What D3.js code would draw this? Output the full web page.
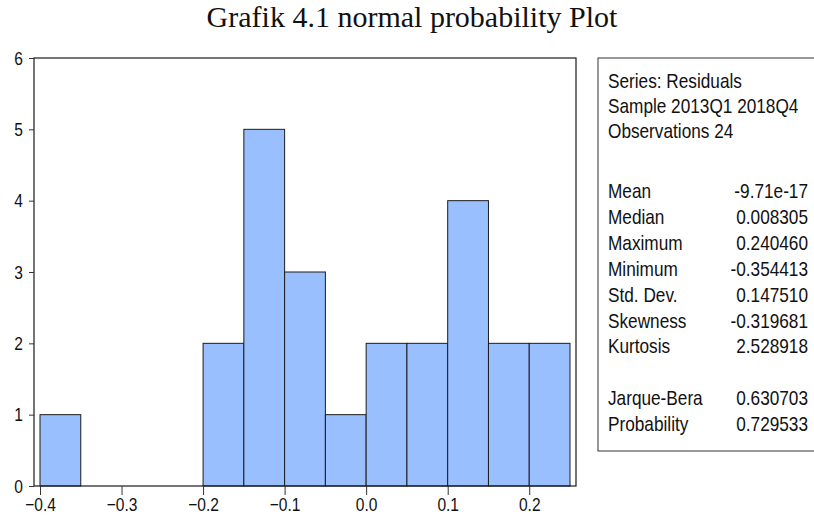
<!DOCTYPE html>
<meta charset="utf-8">
<style>
body { margin: 0; background: #fff; }
svg text { fill: #111; }
.narrow { font-family: "Liberation Sans Narrow", "Arial Narrow", "Liberation Sans", sans-serif; }
.title { font-family: "Liberation Serif", "Times New Roman", serif; }
</style>
<body>
<svg width="814" height="517"></svg>

<script src="https://cdn.jsdelivr.net/npm/d3@7"></script>
<script>

// histogram of residuals (bin start, count), bin width 0.05
var binStarts = [-0.40, -0.35, -0.30, -0.25, -0.20, -0.15, -0.10, -0.05, 0.00, 0.05, 0.10, 0.15, 0.20];
var counts    = [1, 0, 0, 0, 2, 5, 3, 1, 2, 2, 4, 2, 2];
var binWidth = 0.05;

var xTicks = [-0.4, -0.3, -0.2, -0.1, 0.0, 0.1, 0.2];
var yTicks = [0, 1, 2, 3, 4, 5, 6];

// the statistics panel
var headerLines = ["Series: Residuals", "Sample 2013Q1 2018Q4", "Observations 24"];
var statNames  = ["Mean", "Median", "Maximum", "Minimum", "Std. Dev.", "Skewness", "Kurtosis", "", "Jarque-Bera", "Probability"];
var statValues = ["-9.71e-17", "0.008305", "0.240460", "-0.354413", "0.147510", "-0.319681", "2.528918", "", "0.630703", "0.729533"];

var svg = d3.select("svg");

// no narrow sans installed, so squeeze the regular one
var squeeze = 0.82;

var frame = { left: 34, right: 576, top: 58, bottom: 486 };

var x = d3.scaleLinear().domain([-0.4, 0.25]).range([40, 570]);
var y = d3.scaleLinear().domain([0, 6]).range([frame.bottom, frame.top]);

// title
svg.append("text")
    .attr("class", "title")
    .attr("x", 412).attr("y", 27)
    .attr("text-anchor", "middle")
    .style("font-size", "30px")
    .text("Grafik 4.1 normal probability Plot");

// bars
svg.append("g")
  .selectAll("rect")
  .data(counts.map(function(c, i) { return { x0: binStarts[i], n: c }; }).filter(function(d) { return d.n > 0; }))
  .enter().append("rect")
    .attr("x", function(d) { return x(d.x0); })
    .attr("y", function(d) { return y(d.n); })
    .attr("width", function(d) { return x(d.x0 + binWidth) - x(d.x0); })
    .attr("height", function(d) { return y(0) - y(d.n); })
    .attr("fill", "#99bfff")
    .attr("stroke", "#1c1c1c")
    .attr("stroke-width", 1);

// plot frame
svg.append("rect")
    .attr("x", frame.left).attr("y", frame.top)
    .attr("width", frame.right - frame.left)
    .attr("height", frame.bottom - frame.top)
    .attr("fill", "none")
    .attr("stroke", "#1a1a1a")
    .attr("stroke-width", 1.2);

// x axis: major ticks with labels, minor ticks every 0.05
var xAxis = svg.append("g")
    .attr("class", "narrow")
    .attr("transform", "translate(0," + frame.bottom + ")");

xAxis.call(d3.axisBottom(x)
    .tickValues(d3.range(-0.4, 0.2501, 0.05))
    .tickSize(5)
    .tickFormat(""));
xAxis.call(d3.axisBottom(x)
    .tickValues(xTicks)
    .tickSize(9)
    .tickPadding(3)
    .tickFormat(d3.format(".1f")));
xAxis.selectAll(".domain").remove();
xAxis.selectAll("line").attr("stroke", "#333");
xAxis.selectAll("text")
    .style("font-size", "19px")
    .attr("fill", "#111")
    .attr("transform", "scale(" + squeeze + ",1)");

// y axis
var yAxis = svg.append("g")
    .attr("class", "narrow")
    .attr("transform", "translate(" + frame.left + ",0)")
    .call(d3.axisLeft(y).tickValues(yTicks).tickSize(5).tickFormat(d3.format("d")));
yAxis.select(".domain").remove();
yAxis.selectAll("line").attr("stroke", "#333");
yAxis.selectAll("text")
    .style("font-size", "19px")
    .attr("fill", "#111")
    .attr("x", -11 / squeeze)
    .attr("transform", "scale(" + squeeze + ",1)");

// stats panel
svg.append("rect")
    .attr("x", 598).attr("y", 58)
    .attr("width", 230).attr("height", 393)
    .attr("fill", "none")
    .attr("stroke", "#333")
    .attr("stroke-width", 1);

var panel = svg.append("g").attr("class", "narrow").style("font-size", "21px");

function place(px, py) {
  return "translate(" + px + "," + py + ") scale(" + squeeze + ",1)";
}

panel.selectAll(".hdr")
  .data(headerLines)
  .enter().append("text")
    .attr("class", "hdr")
    .attr("transform", function(d, i) { return place(608, 88 + i * 25); })
    .text(function(d) { return d; });

panel.selectAll(".nm")
  .data(statNames)
  .enter().append("text")
    .attr("class", "nm")
    .attr("transform", function(d, i) { return place(608, 198 + i * 25.9); })
    .text(function(d) { return d; });

panel.selectAll(".val")
  .data(statValues)
  .enter().append("text")
    .attr("class", "val")
    .attr("text-anchor", "end")
    .attr("transform", function(d, i) { return place(808, 198 + i * 25.9); })
    .text(function(d) { return d; });

</script>
</body>
